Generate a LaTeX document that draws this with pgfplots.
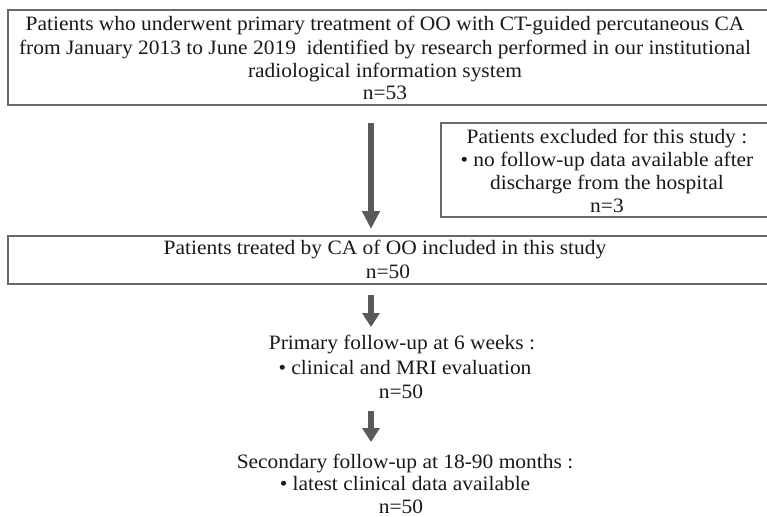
\documentclass[border=0pt]{standalone}
\usepackage{pgfplots}
\pgfplotsset{compat=1.18}
\usepackage{fontspec}
\setmainfont[FakeStretch=1.05]{Liberation Serif}
\usetikzlibrary{arrows.meta}
\definecolor{arr}{RGB}{90,90,90}
\definecolor{brd}{RGB}{105,105,105}
\definecolor{txt}{RGB}{25,25,25}
\newcommand\fs{\fontsize{20.5}{24}\selectfont}
\begin{document}
\begin{tikzpicture}
\begin{axis}[width=767bp,height=517bp,scale only axis,
  xmin=0,xmax=767,ymin=0,ymax=517,y dir=reverse,hide axis,clip=false]
% boxes
\addplot[brd,line width=1.3bp] coordinates {(780,10)(8,10)(8,105)(780,105)};
\addplot[brd,line width=1.3bp] coordinates {(780,123)(441,123)(441,217)(780,217)};
\addplot[brd,line width=1.3bp] coordinates {(780,236)(8,236)(8,284)(780,284)};
% arrows
\addplot[arr,line width=6bp,-{Triangle[width=17bp,length=18bp]}] coordinates {(371,123)(371,229)};
\addplot[arr,line width=6bp,-{Triangle[width=17bp,length=14bp]}] coordinates {(371,295)(371,327)};
\addplot[arr,line width=6bp,-{Triangle[width=17bp,length=14bp]}] coordinates {(371,411)(371,442)};
% texts
\tikzset{t/.style={anchor=base,text=txt,inner sep=0pt,font=\fs}}
\node[t] at (axis cs:385,31) {Patients who underwent primary treatment of OO with CT-guided percutaneous CA};
\node[t] at (axis cs:385,55) {from January 2013 to June 2019\ \ identified by research performed in our institutional};
\node[t] at (axis cs:385,78) {radiological information system};
\node[t] at (axis cs:385,100) {n=53};
\node[t] at (axis cs:607,143) {Patients excluded for this study :};
\node[t] at (axis cs:607,166) {• no follow-up data available after};
\node[t] at (axis cs:607,189) {discharge from the hospital};
\node[t] at (axis cs:607,212) {n=3};
\node[t] at (axis cs:385,254) {Patients treated by CA of OO included in this study};
\node[t] at (axis cs:388,278) {n=50};
\node[t] at (axis cs:402,349) {Primary follow-up at 6 weeks :};
\node[t] at (axis cs:405,374) {• clinical and MRI evaluation};
\node[t] at (axis cs:401,398) {n=50};
\node[t] at (axis cs:405,468) {Secondary follow-up at 18-90 months :};
\node[t] at (axis cs:405,490) {• latest clinical data available};
\node[t] at (axis cs:401,513) {n=50};
\end{axis}
\pgfresetboundingbox
\path[use as bounding box] (current axis.south west) rectangle (current axis.north east);
\end{tikzpicture}
\end{document}
